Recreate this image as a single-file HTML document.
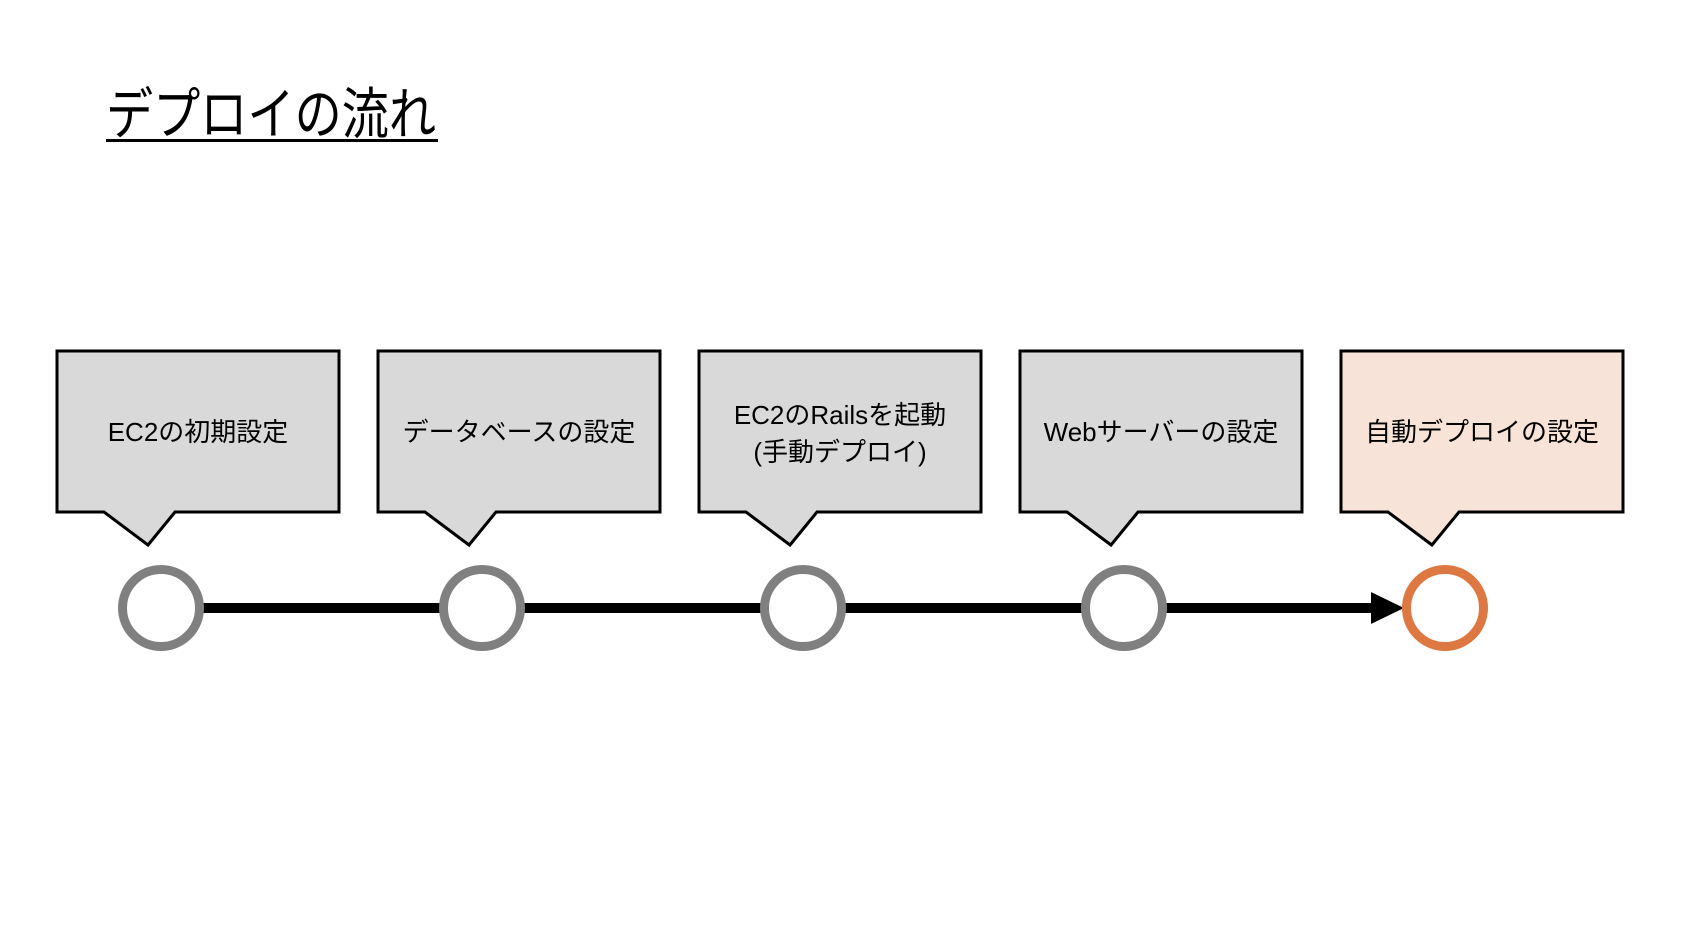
<!DOCTYPE html>
<html><head><meta charset="utf-8"><style>
html,body{margin:0;padding:0;background:#fff;}
svg text{font-family:"Liberation Sans","Noto Sans CJK JP",sans-serif;}
</style></head><body>
<svg width="1682" height="926" viewBox="0 0 1682 926" xmlns="http://www.w3.org/2000/svg">
<rect width="1682" height="926" fill="#fff"/>
<text x="106" y="134" font-size="56" fill="#000" textLength="330" lengthAdjust="spacingAndGlyphs">デプロイの流れ</text>
<rect x="106" y="139" width="332" height="3" fill="#000"/>

<g stroke="#000" stroke-width="3" stroke-linejoin="miter">
<polygon points="57,351 339,351 339,512 175,512 148,545 104,512 57,512" fill="#d9d9d9"/>
<polygon points="378,351 660,351 660,512 496,512 469,545 425,512 378,512" fill="#d9d9d9"/>
<polygon points="699,351 981,351 981,512 817,512 790,545 746,512 699,512" fill="#d9d9d9"/>
<polygon points="1020,351 1302,351 1302,512 1138,512 1111,545 1067,512 1020,512" fill="#d9d9d9"/>
<polygon points="1341,351 1623,351 1623,512 1459,512 1432,545 1388,512 1341,512" fill="#f8e3d8"/>
</g>

<g font-size="26" fill="#000" text-anchor="middle">
<text x="198" y="441">EC2の初期設定</text>
<text x="519" y="441">データベースの設定</text>
<text x="840" y="424">EC2のRailsを起動</text>
<text x="840" y="461">(手動デプロイ)</text>
<text x="1161" y="441">Webサーバーの設定</text>
<text x="1482" y="441">自動デプロイの設定</text>
</g>

<rect x="161" y="603" width="1215" height="10" fill="#000"/>
<polygon points="1371,592 1404,608 1371,624" fill="#000"/>

<g fill="#fff" stroke-width="9">
<circle cx="161" cy="608" r="38.5" stroke="#808080"/>
<circle cx="482" cy="608" r="38.5" stroke="#808080"/>
<circle cx="803" cy="608" r="38.5" stroke="#808080"/>
<circle cx="1124" cy="608" r="38.5" stroke="#808080"/>
<circle cx="1445" cy="608" r="38.5" stroke="#dd7843"/>
</g>
</svg>
</body></html>
